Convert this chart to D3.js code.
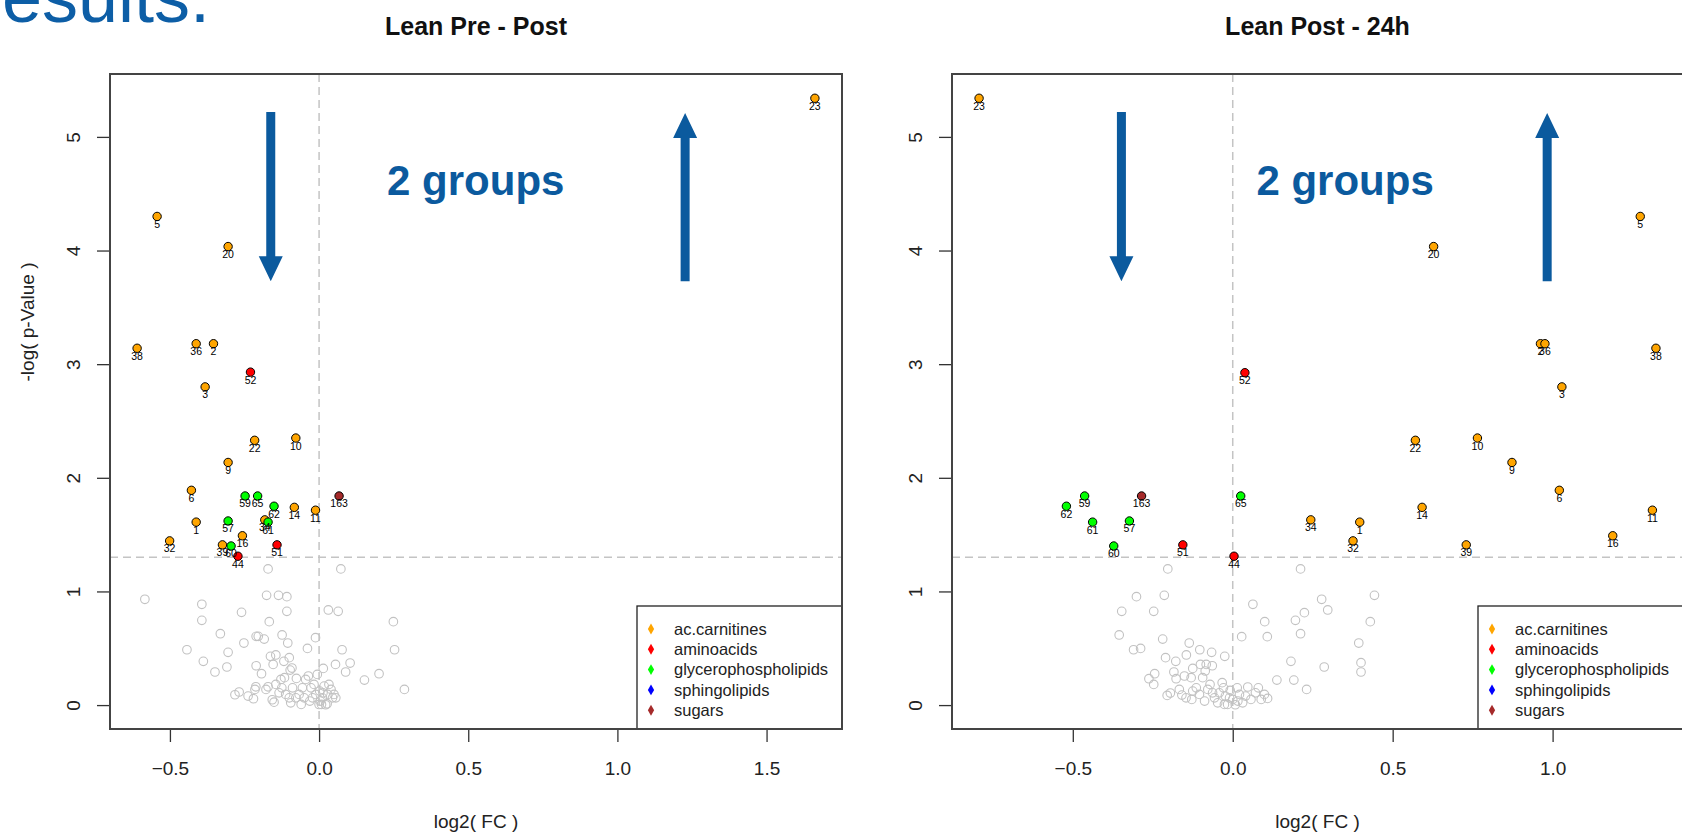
<!DOCTYPE html>
<html>
<head>
<meta charset="utf-8">
<script src="https://cdn.jsdelivr.net/npm/d3@7"></script>
<style>
  html, body { margin: 0; padding: 0; background: #fff; }
  svg { display: block; font-family: Arial, "Liberation Sans", sans-serif; }
</style>
</head>
<body>
<svg id="chart" width="1682" height="835"></svg>
<script>
// Volcano plots of metabolites, two comparisons side by side.

const groups = ["ac.carnitines", "aminoacids", "glycerophospholipids", "sphingolipids", "sugars"];
const groupColors = ["#FFA500", "#FF0000", "#00FF00", "#0000FF", "#A52A2A"];

// significant metabolites: [label, group index, log2 FC, -log p]
const prePostSig = [
  ["23", 0, 1.662, 5.34], ["5", 0, -0.543, 4.30], ["20", 0, -0.305, 4.035],
  ["38", 0, -0.610, 3.14], ["36", 0, -0.412, 3.18], ["2", 0, -0.354, 3.18],
  ["52", 1, -0.230, 2.93], ["3", 0, -0.382, 2.80], ["22", 0, -0.216, 2.33],
  ["10", 0, -0.078, 2.35], ["9", 0, -0.305, 2.135], ["6", 0, -0.428, 1.89],
  ["59", 2, -0.248, 1.84], ["65", 2, -0.206, 1.84], ["163", 4, 0.067, 1.84],
  ["62", 2, -0.151, 1.75], ["14", 0, -0.083, 1.74], ["11", 0, -0.012, 1.715],
  ["1", 0, -0.412, 1.61], ["57", 2, -0.305, 1.62], ["34", 0, -0.182, 1.63],
  ["61", 2, -0.171, 1.61], ["16", 0, -0.257, 1.49], ["51", 1, -0.141, 1.41],
  ["32", 0, -0.501, 1.445], ["39", 0, -0.324, 1.41], ["60", 2, -0.295, 1.40],
  ["44", 1, -0.272, 1.31]
];

const postDaySig = [
  ["23", 0, -0.793, 5.34], ["5", 0, 1.274, 4.30], ["20", 0, 0.628, 4.035],
  ["2", 0, 0.962, 3.18], ["36", 0, 0.976, 3.18], ["38", 0, 1.323, 3.14],
  ["52", 1, 0.038, 2.925], ["3", 0, 1.029, 2.80], ["22", 0, 0.571, 2.33],
  ["10", 0, 0.765, 2.35], ["9", 0, 0.873, 2.135], ["6", 0, 1.021, 1.89],
  ["59", 2, -0.463, 1.84], ["163", 4, -0.285, 1.84], ["65", 2, 0.025, 1.84],
  ["62", 2, -0.520, 1.75], ["14", 0, 0.592, 1.74], ["11", 0, 1.312, 1.715],
  ["61", 2, -0.438, 1.61], ["57", 2, -0.323, 1.62], ["34", 0, 0.244, 1.63],
  ["1", 0, 0.397, 1.61], ["16", 0, 1.188, 1.49], ["32", 0, 0.376, 1.445],
  ["39", 0, 0.730, 1.41], ["60", 2, -0.372, 1.40], ["51", 1, -0.156, 1.41],
  ["44", 1, 0.004, 1.31]
];

// non-significant metabolites: [log2 FC, -log p]
const prePostBg = [
  [-0.171, 1.198], [0.073, 1.198], [-0.584, 0.931], [-0.176, 0.966], [-0.136, 0.966],
  [-0.108, 0.954], [-0.393, 0.887], [-0.108, 0.825], [-0.260, 0.816], [0.031, 0.837],
  [0.064, 0.825], [-0.393, 0.746], [-0.167, 0.734], [0.249, 0.734], [-0.331, 0.628],
  [-0.124, 0.617], [-0.211, 0.605], [-0.204, 0.605], [-0.184, 0.581], [-0.252, 0.546],
  [-0.105, 0.546], [-0.012, 0.593], [-0.443, 0.487], [-0.039, 0.499], [0.077, 0.487],
  [0.253, 0.487], [-0.305, 0.464], [-0.163, 0.429], [-0.145, 0.441], [-0.100, 0.417],
  [-0.388, 0.385], [-0.118, 0.385], [-0.154, 0.358], [-0.211, 0.346], [-0.309, 0.335],
  [0.055, 0.358], [0.104, 0.370], [-0.091, 0.326], [-0.097, 0.308], [0.014, 0.323],
  [-0.349, 0.291], [-0.193, 0.276], [0.089, 0.291], [0.201, 0.276], [0.152, 0.220],
  [0.286, 0.138],
  [-0.282, 0.091], [-0.268, 0.115], [-0.238, 0.079], [-0.220, 0.056], [-0.215, 0.138],
  [-0.212, 0.161], [-0.171, 0.161], [-0.157, 0.047], [-0.151, 0.026], [-0.145, 0.182],
  [-0.128, 0.226], [-0.125, 0.152], [-0.116, 0.241], [-0.112, 0.094], [-0.095, 0.020],
  [-0.089, 0.152], [-0.076, 0.235], [-0.067, 0.094], [-0.060, 0.006], [-0.056, 0.152],
  [-0.045, 0.226], [-0.036, 0.256], [-0.022, 0.064], [-0.017, 0.182], [-0.006, 0.270],
  [0.000, 0.005], [0.004, 0.035], [0.011, 0.064], [0.017, 0.167], [0.022, 0.003],
  [0.029, 0.094], [0.033, 0.182], [0.040, 0.138], [0.045, 0.064], [0.050, 0.094],
  [0.056, 0.064], [0.002, 0.123], [-0.011, 0.094], [-0.031, 0.035], [-0.050, 0.064],
  [-0.078, 0.064], [-0.100, 0.064], [-0.134, 0.108], [-0.178, 0.138], [-0.027, 0.152],
  [0.008, 0.006], [0.027, 0.011], [0.013, 0.108]
];

const postDayBg = [
  [-0.203, 1.198], [0.212, 1.198], [-0.301, 0.954], [-0.214, 0.966], [-0.347, 0.825],
  [-0.247, 0.825], [0.063, 0.887], [0.278, 0.931], [0.443, 0.966], [0.100, 0.734],
  [0.196, 0.746], [0.224, 0.813], [0.297, 0.837], [0.430, 0.734], [-0.355, 0.617],
  [-0.219, 0.581], [-0.136, 0.546], [0.028, 0.602], [0.108, 0.602], [0.212, 0.628],
  [0.394, 0.546], [-0.310, 0.487], [-0.288, 0.499], [-0.210, 0.417], [-0.178, 0.385],
  [-0.145, 0.441], [-0.103, 0.487], [-0.066, 0.464], [-0.025, 0.429], [0.182, 0.385],
  [0.286, 0.335], [0.401, 0.373], [0.401, 0.291], [0.138, 0.220], [0.191, 0.220],
  [0.231, 0.138], [-0.244, 0.276], [-0.262, 0.232], [-0.247, 0.182], [-0.184, 0.291],
  [-0.177, 0.232], [-0.151, 0.256], [-0.125, 0.323], [-0.101, 0.358], [-0.083, 0.358],
  [-0.064, 0.346], [-0.086, 0.300], [-0.094, 0.241], [-0.130, 0.241],
  [-0.205, 0.085], [-0.195, 0.106], [-0.167, 0.138], [-0.159, 0.088], [-0.128, 0.050],
  [-0.114, 0.152], [-0.104, 0.094], [-0.088, 0.035], [-0.078, 0.138], [-0.071, 0.182],
  [-0.057, 0.064], [-0.047, 0.020], [-0.033, 0.197], [-0.029, 0.152], [-0.023, 0.079],
  [-0.016, 0.006], [-0.008, 0.129], [0.000, 0.050], [0.008, 0.003], [0.014, 0.152],
  [0.021, 0.094], [0.031, 0.020], [0.040, 0.079], [0.047, 0.159], [0.057, 0.050],
  [0.071, 0.108], [0.080, 0.152], [0.089, 0.050], [0.099, 0.094], [0.109, 0.059],
  [-0.042, 0.108], [-0.063, 0.108], [-0.125, 0.123], [-0.146, 0.064], [-0.010, 0.064],
  [-0.026, 0.006], [0.016, 0.035]
];

const pCutoff = -Math.log10(0.05);
const yTicks = [0, 1, 2, 3, 4, 5];

const W = 1682, H = 835;
const plotTop = 74, plotBottom = 729;
const blue = "#0b5a9e";

const svg = d3.select("#chart");
svg.append("rect").attr("width", W).attr("height", H).attr("fill", "#fff");

// slide heading, cut off at the top-left corner
svg.append("text")
  .attr("x", -50).attr("y", 22)
  .attr("font-size", 72).attr("fill", "#0d5ea6")
  .text("Results.");

const panels = [
  { title: "Lean Pre - Post", sig: prePostSig, bg: prePostBg, left: 110, right: 842,
    xTicks: [-0.5, 0, 0.5, 1.0, 1.5], yLabel: true,
    down: { x: -0.162, y0: 5.22, y1: 3.73 }, up: { x: 1.227, y0: 3.73, y1: 5.21 },
    note: { x: 0.228, y: 4.49 } },
  { title: "Lean Post - 24h", sig: postDaySig, bg: postDayBg, left: 952, right: 1683,
    xTicks: [-0.5, 0, 0.5, 1.0, 1.5], yLabel: false,
    down: { x: -0.348, y0: 5.22, y1: 3.73 }, up: { x: 0.983, y0: 3.73, y1: 5.21 },
    note: { x: 0.074, y: 4.49 } }
];

function padded(ext) {
  const d = (ext[1] - ext[0]) * 0.04;
  return [ext[0] - d, ext[1] + d];
}

function drawArrow(g, x, y0, y1) {
  const dir = Math.sign(y1 - y0), sw = 4.5, hw = 12, hl = 25;
  const pts = [[x - sw, y0], [x + sw, y0], [x + sw, y1 - dir * hl], [x + hw, y1 - dir * hl],
               [x, y1], [x - hw, y1 - dir * hl], [x - sw, y1 - dir * hl]];
  g.append("path").attr("d", "M" + pts.join("L") + "Z").attr("fill", blue);
}

panels.forEach(p => {
  const allX = p.sig.map(d => d[2]).concat(p.bg.map(d => d[0]));
  const allY = p.sig.map(d => d[3]).concat(p.bg.map(d => d[1]));
  const x = d3.scaleLinear().domain(padded(d3.extent(allX))).range([p.left, p.right]);
  const y = d3.scaleLinear().domain(padded(d3.extent(allY))).range([plotBottom, plotTop]);

  const g = svg.append("g");
  const cx = (p.left + p.right) / 2;

  // title
  g.append("text").attr("x", cx).attr("y", 35)
    .attr("text-anchor", "middle").attr("font-weight", "bold").attr("font-size", 25)
    .attr("fill", "#111").text(p.title);

  // axes
  const xAxis = g.append("g").attr("transform", `translate(0,${plotBottom})`)
    .call(d3.axisBottom(x).tickValues(p.xTicks.filter(t => t <= x.domain()[1]))
      .tickFormat(d3.format(".1f")).tickSize(13).tickPadding(20));
  xAxis.select(".domain").remove();
  xAxis.selectAll("line").attr("stroke", "#333").attr("stroke-width", 1.3);
  xAxis.selectAll("text").attr("font-size", 19).attr("fill", "#222").attr("font-family", null);

  const yAxis = g.append("g").attr("transform", `translate(${p.left},0)`)
    .call(d3.axisLeft(y).tickValues(yTicks).tickFormat(d3.format("d")).tickSize(13));
  yAxis.select(".domain").remove();
  yAxis.selectAll("line").attr("stroke", "#333").attr("stroke-width", 1.3);
  yAxis.selectAll("text")
    .attr("font-size", 19).attr("fill", "#222").attr("font-family", null)
    .attr("x", null).attr("dy", null)
    .attr("text-anchor", "middle")
    .attr("transform", `translate(${-37},0) rotate(-90)`)
    .attr("dy", "0.35em");

  // axis titles
  g.append("text").attr("x", cx).attr("y", 828)
    .attr("text-anchor", "middle").attr("font-size", 19).attr("fill", "#222")
    .text("log2( FC )");
  if (p.yLabel) {
    g.append("text")
      .attr("transform", `translate(${p.left - 83},322) rotate(-90)`)
      .attr("text-anchor", "middle").attr("dy", "0.35em")
      .attr("font-size", 19).attr("fill", "#222")
      .text("-log( p-Value )");
  }

  const plot = g.append("g");

  // cutoff guides
  plot.append("line")
    .attr("x1", x(0)).attr("x2", x(0)).attr("y1", plotTop).attr("y2", plotBottom)
    .attr("stroke", "#c4c4c4").attr("stroke-width", 1.5).attr("stroke-dasharray", "8,5");
  plot.append("line")
    .attr("x1", p.left).attr("x2", p.right).attr("y1", y(pCutoff)).attr("y2", y(pCutoff))
    .attr("stroke", "#c4c4c4").attr("stroke-width", 1.5).attr("stroke-dasharray", "8,5");

  // non-significant points
  plot.append("g").selectAll("circle").data(p.bg).join("circle")
    .attr("cx", d => x(d[0])).attr("cy", d => y(d[1])).attr("r", 4.3)
    .attr("fill", "none").attr("stroke", "#c2c2c2").attr("stroke-width", 1.1);

  // significant points
  plot.append("g").selectAll("circle").data(p.sig).join("circle")
    .attr("cx", d => x(d[2])).attr("cy", d => y(d[3])).attr("r", 4.2)
    .attr("fill", d => groupColors[d[1]]).attr("stroke", "#000").attr("stroke-width", 1);
  plot.append("g").selectAll("text").data(p.sig).join("text")
    .attr("x", d => x(d[2])).attr("y", d => y(d[3]) + 11.5)
    .attr("text-anchor", "middle").attr("font-size", 10.5).attr("fill", "#000")
    .text(d => d[0]);

  // annotations
  drawArrow(plot, x(p.down.x), y(p.down.y0), y(p.down.y1));
  drawArrow(plot, x(p.up.x), y(p.up.y0), y(p.up.y1));
  plot.append("text").attr("x", x(p.note.x)).attr("y", y(p.note.y))
    .attr("font-size", 42).attr("font-weight", "bold").attr("fill", blue)
    .text("2 groups");

  // legend, bottom right
  const lw = 205, lh = 123;
  const lg = g.append("g").attr("transform", `translate(${p.right - lw},${plotBottom - lh})`);
  lg.append("rect").attr("width", lw).attr("height", lh)
    .attr("fill", "#fff").attr("stroke", "#222").attr("stroke-width", 1.3);
  const rows = lg.selectAll("g").data(groups).join("g")
    .attr("transform", (d, i) => `translate(0,${23 + i * 20.3})`);
  rows.append("path")
    .attr("d", d3.symbol(d3.symbolDiamond, 34))
    .attr("transform", "translate(14,0)")
    .attr("fill", (d, i) => groupColors[i]);
  rows.append("text").attr("x", 37).attr("dy", "0.35em")
    .attr("font-size", 16.5).attr("fill", "#222").text(d => d);

  // plot frame
  g.append("rect").attr("x", p.left).attr("y", plotTop)
    .attr("width", p.right - p.left).attr("height", plotBottom - plotTop)
    .attr("fill", "none").attr("stroke", "#444").attr("stroke-width", 2);
});
</script>
</body>
</html>
